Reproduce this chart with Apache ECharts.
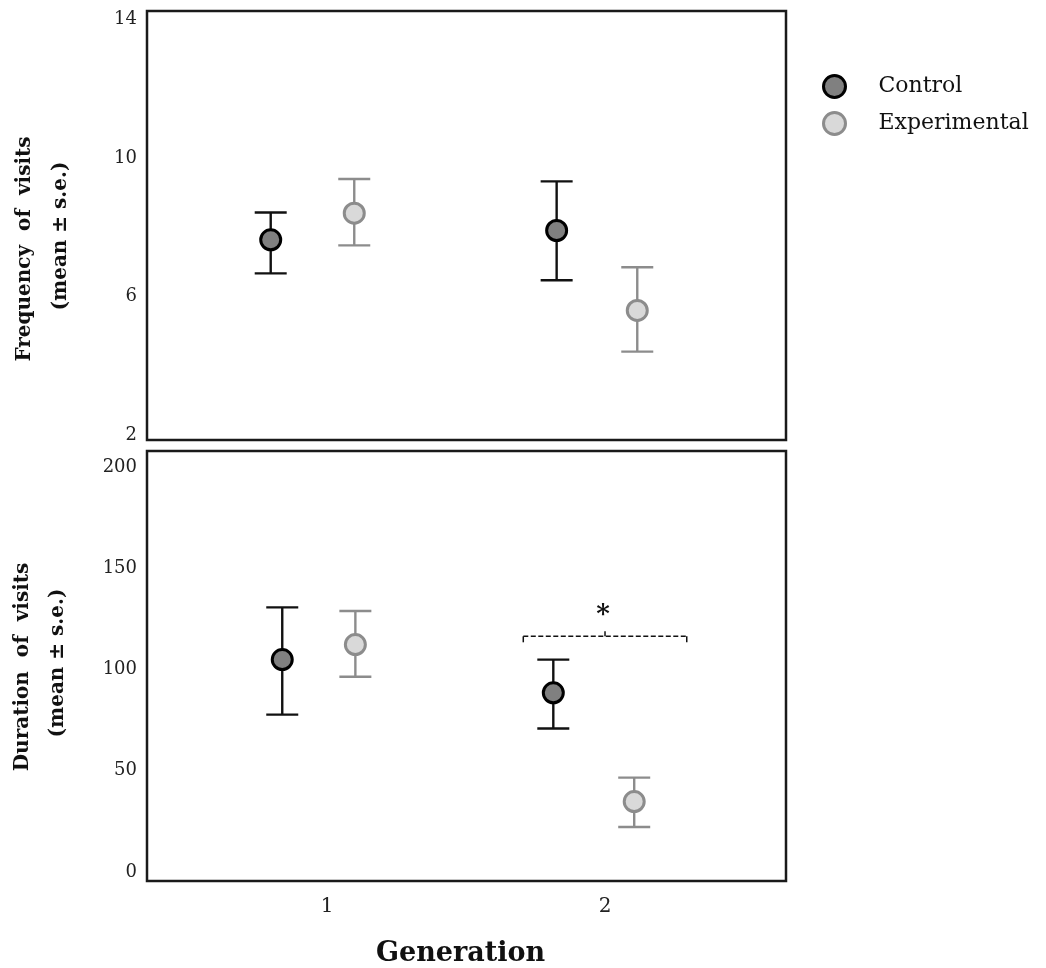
<!DOCTYPE html>
<html>
<head>
<meta charset="utf-8">
<script src="https://cdn.jsdelivr.net/npm/echarts@6/dist/echarts.min.js"></script>
<style>
html,body{margin:0;padding:0;background:#fff;}
#chart{width:1046px;height:968px;}
</style>
</head>
<body>
<div id="chart"></div>
<script>
// ---------------- data ----------------
const generations = [1, 2];
const seriesNames = ['Control', 'Experimental'];

// Frequency of visits (mean ± s.e.)
const freqControlMean  = [7.64, 7.91];
const freqControlLower = [6.67, 6.47];
const freqControlUpper = [8.43, 9.33];
const freqExpMean      = [8.41, 5.60];
const freqExpLower     = [7.48, 4.41];
const freqExpUpper     = [9.40, 6.85];

// Duration of visits (mean ± s.e.)
const durControlMean  = [104.9, 88.5];
const durControlLower = [77.7, 70.9];
const durControlUpper = [130.7, 104.9];
const durExpMean      = [112.3, 34.8];
const durExpLower     = [96.4, 22.2];
const durExpUpper     = [128.9, 46.6];

// tick labels
const freqTicks = [2, 6, 10, 14];
const durTicks = [0, 50, 100, 150, 200];
const genTicks = [1, 2];

// axis titles
const freqTitle = ['Frequency  of  visits', '(mean ± s.e.)'];
const durTitle = ['Duration  of  visits', '(mean ± s.e.)'];
const xTitle = 'Generation';

// significance annotation (generation 2, duration)
const sigFrom = 1.706, sigTo = 2.294, sigLevel = 116.4, sigLabel = '*';

// ---------------- layout / style ----------------
const FONT = 'DejaVu Serif';
const dodge = {
  top:    {control: [-0.2025, -0.174], exp: [0.098, 0.116]},
  bottom: {control: [-0.161, -0.186],  exp: [0.102, 0.105]}
};
const ctrlStyle = {fill: '#808080', stroke: '#000000', bar: '#111111'};
const expStyle  = {fill: '#d9d9d9', stroke: '#8c8c8c', bar: '#8c8c8c'};

function pts(panel, key, mean) {
  return generations.map((g, i) => [g + dodge[panel][key][i], mean[i]]);
}
function bars(panel, key, lo, hi) {
  return generations.map((g, i) => [g + dodge[panel][key][i], lo[i], hi[i]]);
}
function errRender(color) {
  return function (params, api) {
    const x = api.value(0), lo = api.value(1), hi = api.value(2);
    const a = api.coord([x, lo]), b = api.coord([x, hi]);
    const cw = 16;
    const st = {stroke: color, lineWidth: 2.4};
    return {type: 'group', children: [
      {type: 'line', shape: {x1: a[0], y1: a[1], x2: b[0], y2: b[1]}, style: st},
      {type: 'line', shape: {x1: a[0]-cw, y1: a[1], x2: a[0]+cw, y2: a[1]}, style: st},
      {type: 'line', shape: {x1: b[0]-cw, y1: b[1], x2: b[0]+cw, y2: b[1]}, style: st}
    ]};
  };
}
function errSeries(gi, data, color) {
  return {type: 'custom', xAxisIndex: gi, yAxisIndex: gi, data: data,
    encode: {x: 0, y: [1, 2]}, renderItem: errRender(color), z: 2, silent: true};
}
function ptSeries(gi, name, data, s) {
  return {type: 'scatter', name: name, xAxisIndex: gi, yAxisIndex: gi, data: data,
    symbol: 'circle', symbolSize: 20, z: 5,
    itemStyle: {color: s.fill, borderColor: s.stroke, borderWidth: 3, opacity: 1}};
}
function vText(text, x, y, size) {
  return {type: 'text', x: x, y: y, rotation: Math.PI / 2,
    style: {text: text, font: 'bold ' + size + 'px "DejaVu Serif"', fill: '#111',
      align: 'center', verticalAlign: 'middle'}};
}

const xCommon = {type: 'value', min: 0.3525, max: 2.651,
  axisLine: {show: false}, axisTick: {show: false}, splitLine: {show: false}};
const yCommon = {type: 'value', axisLine: {show: false}, axisTick: {show: false}, splitLine: {show: false},
  axisLabel: {fontFamily: FONT, fontSize: 18, color: '#222', margin: 10}};

const chart = echarts.init(document.getElementById('chart'), null, {renderer: 'canvas'});
const option = {
  backgroundColor: '#ffffff',
  animation: false,
  textStyle: {fontFamily: FONT},
  grid: [
    {left: 147, right: 260, top: 11, height: 429, show: true, borderColor: '#1a1a1a', borderWidth: 2.5, backgroundColor: 'transparent'},
    {left: 147, right: 260, top: 451, height: 431, show: true, borderColor: '#1a1a1a', borderWidth: 2.5, backgroundColor: 'transparent'}
  ],
  xAxis: [
    Object.assign({}, xCommon, {gridIndex: 0, axisLabel: {show: false}}),
    Object.assign({}, xCommon, {gridIndex: 1,
      axisLabel: {show: true, customValues: genTicks, fontFamily: FONT, fontSize: 20, color: '#222', margin: 16},
      name: xTitle, nameLocation: 'middle', nameGap: 59,
      nameTextStyle: {fontFamily: FONT, fontSize: 27, fontWeight: 'bold', color: '#111', padding: [0, 12, 0, 0]}})
  ],
  yAxis: [
    Object.assign({}, yCommon, {gridIndex: 0, min: 1.855, max: 14.254,
      axisLabel: Object.assign({}, yCommon.axisLabel, {customValues: freqTicks})}),
    Object.assign({}, yCommon, {gridIndex: 1, min: -4.43, max: 207.9,
      axisLabel: Object.assign({}, yCommon.axisLabel, {customValues: durTicks})})
  ],
  legend: {
    orient: 'vertical', left: 822, top: 74, padding: 0, itemWidth: 22, itemHeight: 22, itemGap: 12,
    textStyle: {fontFamily: FONT, fontSize: 22, color: '#111', padding: [0, 0, 0, 28]},
    data: [
      {name: seriesNames[0], icon: 'circle', itemStyle: {color: ctrlStyle.fill, borderColor: ctrlStyle.stroke, borderWidth: 3}},
      {name: seriesNames[1], icon: 'circle', itemStyle: {color: expStyle.fill, borderColor: expStyle.stroke, borderWidth: 3}}
    ]
  },
  graphic: [
    vText(freqTitle[0], 25, 249, 20),
    vText(freqTitle[1], 61, 236, 20),
    vText(durTitle[0], 23, 667, 20),
    vText(durTitle[1], 58, 663, 20)
  ],
  series: [
    errSeries(0, bars('top', 'control', freqControlLower, freqControlUpper), ctrlStyle.bar),
    errSeries(0, bars('top', 'exp', freqExpLower, freqExpUpper), expStyle.bar),
    ptSeries(0, seriesNames[0], pts('top', 'control', freqControlMean), ctrlStyle),
    ptSeries(0, seriesNames[1], pts('top', 'exp', freqExpMean), expStyle),
    errSeries(1, bars('bottom', 'control', durControlLower, durControlUpper), ctrlStyle.bar),
    errSeries(1, bars('bottom', 'exp', durExpLower, durExpUpper), expStyle.bar),
    ptSeries(1, seriesNames[0], pts('bottom', 'control', durControlMean), ctrlStyle),
    ptSeries(1, seriesNames[1], pts('bottom', 'exp', durExpMean), expStyle),
    {
      type: 'custom', xAxisIndex: 1, yAxisIndex: 1, silent: true, z: 3,
      data: [[sigFrom, sigTo, sigLevel]], encode: {x: [0, 1], y: 2},
      renderItem: function (params, api) {
        const a = api.coord([api.value(0), api.value(2)]);
        const b = api.coord([api.value(1), api.value(2)]);
        const mx = (a[0] + b[0]) / 2;
        const st = {stroke: '#111', lineWidth: 1.5, lineDash: [5, 2.5], fill: null};
        const solid = {stroke: '#111', lineWidth: 1.5};
        return {type: 'group', children: [
          {type: 'line', shape: {x1: a[0], y1: a[1], x2: b[0], y2: b[1]}, style: st},
          {type: 'line', shape: {x1: a[0], y1: a[1], x2: a[0], y2: a[1] + 6}, style: solid},
          {type: 'line', shape: {x1: b[0], y1: b[1], x2: b[0], y2: b[1] + 6}, style: solid},
          {type: 'line', shape: {x1: mx, y1: a[1], x2: mx, y2: a[1] - 5}, style: solid},
          {type: 'text', x: mx - 2, y: a[1] - 21,
            style: {text: sigLabel, font: 'bold 26px "DejaVu Serif"', fill: '#111', align: 'center', verticalAlign: 'middle'}}
        ]};
      }
    }
  ]
};
chart.setOption(option);
</script>
</body>
</html>
